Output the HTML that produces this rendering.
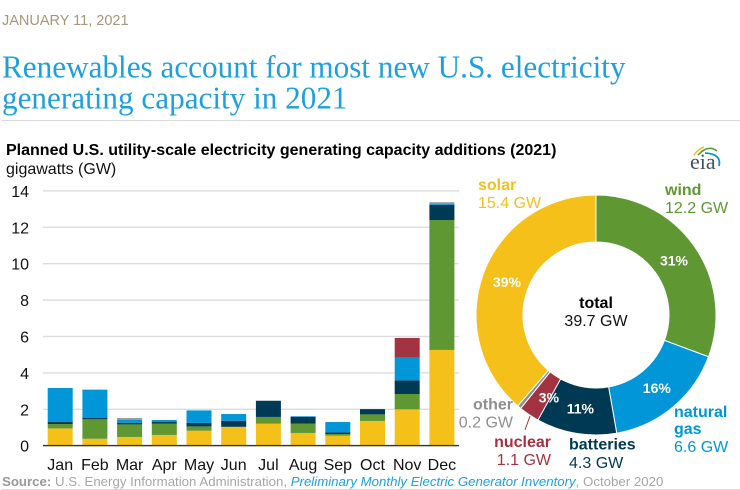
<!DOCTYPE html>
<html lang="en">
<head>
<meta charset="utf-8">
<title>Renewables account for most new U.S. electricity generating capacity in 2021</title>
<style>
html,body{margin:0;padding:0;background:#fff;width:740px;height:490px;overflow:hidden}
svg{display:block}
text{font-family:"Liberation Sans",sans-serif}
.serif{font-family:"Liberation Serif",serif}
</style>
</head>
<body>
<svg id="chart" width="740" height="490" viewBox="0 0 740 490">
  <text x="2" y="25" font-size="14.5" fill="#a8957a">JANUARY 11, 2021</text>
  <text class="serif" x="2" y="77.5" font-size="31.2" fill="#1f9fdc">Renewables account for most new U.S. electricity</text>
  <text class="serif" x="2" y="108.5" font-size="31.2" fill="#1f9fdc">generating capacity in 2021</text>
  <rect x="2" y="120" width="738" height="1" fill="#d9d9d9"/>
  <text x="6" y="155" font-size="16" font-weight="bold" fill="#000">Planned U.S. utility-scale electricity generating capacity additions (2021)</text>
  <text x="6" y="174" font-size="16" fill="#111">gigawatts (GW)</text>

  <g id="grid"></g>
  <g id="bars"></g>
  <rect x="43" y="444.9" width="416" height="1.4" fill="#333"/>
  <g id="xlabels"></g>
  <g id="donut"></g>

  <text x="596" y="308" font-size="16" font-weight="bold" text-anchor="middle" fill="#000">total</text>
  <text x="596" y="326" font-size="16" text-anchor="middle" fill="#111">39.7 GW</text>

  <g font-size="16">
    <text x="478" y="190" font-weight="bold" fill="#f5c01a">solar</text>
    <text x="478" y="208" fill="#f5c01a">15.4 GW</text>
    <text x="665" y="195" font-weight="bold" fill="#5f9732">wind</text>
    <text x="665" y="213" fill="#5f9732">12.2 GW</text>
    <text x="674" y="417" font-weight="bold" fill="#0096d7">natural</text>
    <text x="674" y="434" font-weight="bold" fill="#0096d7">gas</text>
    <text x="674" y="452" fill="#0096d7">6.6 GW</text>
    <text x="569" y="449.5" font-weight="bold" fill="#003953">batteries</text>
    <text x="569" y="468" fill="#003953">4.3 GW</text>
    <text x="551" y="447" font-weight="bold" text-anchor="end" fill="#a33340">nuclear</text>
    <text x="551" y="465" text-anchor="end" fill="#a33340">1.1 GW</text>
    <text x="513" y="409.5" font-weight="bold" text-anchor="end" fill="#8f8f8f">other</text>
    <text x="513" y="427.5" text-anchor="end" fill="#8f8f8f">0.2 GW</text>
  </g>
  <line x1="530" y1="416" x2="525" y2="430" stroke="#a33340" stroke-width="1"/>

  <g>
    <path d="M694 155 Q698 149 704 147" fill="none" stroke="#f5c01a" stroke-width="1.6"/>
    <path d="M698 155 Q708 144 717 151" fill="none" stroke="#5f9732" stroke-width="1.6"/>
    <path d="M705 153 Q722 154 719 166" fill="none" stroke="#0096d7" stroke-width="1.8"/>
    <text class="serif" x="690" y="169" font-size="22" fill="#3f5266">eia</text>
  </g>

  <text x="2" y="486" font-size="13.25" fill="#a6a6a6"><tspan font-weight="bold" fill="#999">Source:</tspan> U.S. Energy Information Administration, <tspan font-style="italic" fill="#1f9fdc">Preliminary Monthly Electric Generator Inventory</tspan>, October 2020</text>
  <rect x="2" y="489" width="738" height="1" fill="#d9d9d9"/>
</svg>
<script>
const months = ['Jan','Feb','Mar','Apr','May','Jun','Jul','Aug','Sep','Oct','Nov','Dec'];
const yTicks = [0,2,4,6,8,10,12,14];
const solar     = [0.95,0.38,0.48,0.59,0.82,1.03,1.21,0.70,0.55,1.36,2.00,5.26];
const wind      = [0.24,1.07,0.69,0.62,0.24,0.01,0.37,0.51,0.09,0.36,0.84,7.14];
const batteries = [0.13,0.09,0.09,0.11,0.19,0.33,0.89,0.38,0.09,0.29,0.75,0.84];
const naturalGas= [1.85,1.54,0.17,0.09,0.69,0.37,0.00,0.03,0.57,0.00,1.26,0.06];
const nuclear   = [0,0,0,0,0,0,0,0,0,0,1.07,0];
const other     = [0,0,0.09,0,0,0,0,0,0,0,0,0.08];
const donutNames  = ['wind','natural-gas','batteries','nuclear','other','solar'];
const donutValues = [12.2,6.6,4.3,1.1,0.2,15.4];
const donutPercents = ['31%','16%','11%','3%','','39%'];

const seriesList = [
  {name:'solar',values:solar,color:'#f5c01a'},
  {name:'wind',values:wind,color:'#5f9732'},
  {name:'batteries',values:batteries,color:'#003953'},
  {name:'natural-gas',values:naturalGas,color:'#0096d7'},
  {name:'nuclear',values:nuclear,color:'#a33340'},
  {name:'other',values:other,color:'#999999'}
];
const donutColors = ['#5f9732','#0096d7','#003953','#a33340','#8f8f8f','#f5c01a'];
const NS = 'http://www.w3.org/2000/svg';
const y = v => 445.7 - v * 18.2;
const x = i => 47.7 + i * 34.7;
const barW = 25;

const grid = document.getElementById('grid');
yTicks.forEach(t => {
  if (t > 0) {
    const g = document.createElementNS(NS, 'rect');
    
    
    g.setAttribute('x', 43);
    g.setAttribute('y', y(t) - 0.7);
    g.setAttribute('width', 416);
    g.setAttribute('height', 1.4);
    g.setAttribute('fill', '#dddddd');
    grid.appendChild(g);
  }
  const l = document.createElementNS(NS, 'text');
  
  
  l.setAttribute('x', 29);
  l.setAttribute('y', y(t) + 6);
  l.setAttribute('font-size', '16');
  l.setAttribute('text-anchor', 'end');
  l.setAttribute('fill', '#111');
  l.textContent = t;
  grid.appendChild(l);
});

const bars = document.getElementById('bars');
const xlabels = document.getElementById('xlabels');
months.forEach((m, i) => {
  let base = 0;
  seriesList.forEach(s => {
    const v = s.values[i];
    if (v > 0) {
      const r = document.createElementNS(NS, 'rect');
      
      
      r.setAttribute('x', x(i));
      r.setAttribute('y', y(base + v));
      r.setAttribute('width', barW);
      r.setAttribute('height', y(base) - y(base + v));
      r.setAttribute('fill', s.color);
      bars.appendChild(r);
      base += v;
    }
  });
  const t = document.createElementNS(NS, 'text');
  
  
  t.setAttribute('x', x(i) + barW / 2);
  t.setAttribute('y', 470);
  t.setAttribute('font-size', '16');
  t.setAttribute('text-anchor', 'middle');
  t.setAttribute('fill', '#111');
  t.textContent = m;
  xlabels.appendChild(t);
});

const donut = document.getElementById('donut');
const cx = 596, cy = 315, rO = 120, rI = 73;
const total = donutValues.reduce((a, b) => a + b, 0);
const pt = (r, a) => [cx + r * Math.sin(a), cy - r * Math.cos(a)];
let acc = 0;
donutValues.forEach((v, i) => {
  const a0 = acc / total * 2 * Math.PI;
  acc += v;
  const a1 = acc / total * 2 * Math.PI;
  const large = a1 - a0 > Math.PI ? 1 : 0;
  const p1 = pt(rO, a0), p2 = pt(rO, a1), p3 = pt(rI, a1), p4 = pt(rI, a0);
  const d = `M${p1[0]} ${p1[1]}A${rO} ${rO} 0 ${large} 1 ${p2[0]} ${p2[1]}L${p3[0]} ${p3[1]}A${rI} ${rI} 0 ${large} 0 ${p4[0]} ${p4[1]}Z`;
  const path = document.createElementNS(NS, 'path');
  
  
  path.setAttribute('d', d);
  path.setAttribute('fill', donutColors[i]);
  path.setAttribute('stroke', '#fff');
  path.setAttribute('stroke-width', '1');
  donut.appendChild(path);
});
acc = 0;
donutValues.forEach((v, i) => {
  let mid = (acc + v / 2) / total * 2 * Math.PI;
  acc += v;
  if (!donutPercents[i]) return;
  if (donutNames[i] === 'nuclear') mid -= 4.2 * Math.PI / 180;
  const p = pt(95, mid);
  const t = document.createElementNS(NS, 'text');
  
  
  t.setAttribute('x', p[0]);
  t.setAttribute('y', p[1] + 5);
  t.setAttribute('font-size', '14');
  t.setAttribute('font-weight', 'bold');
  t.setAttribute('text-anchor', 'middle');
  t.setAttribute('fill', '#fff');
  t.textContent = donutPercents[i];
  donut.appendChild(t);
});
</script>
</body>
</html>
